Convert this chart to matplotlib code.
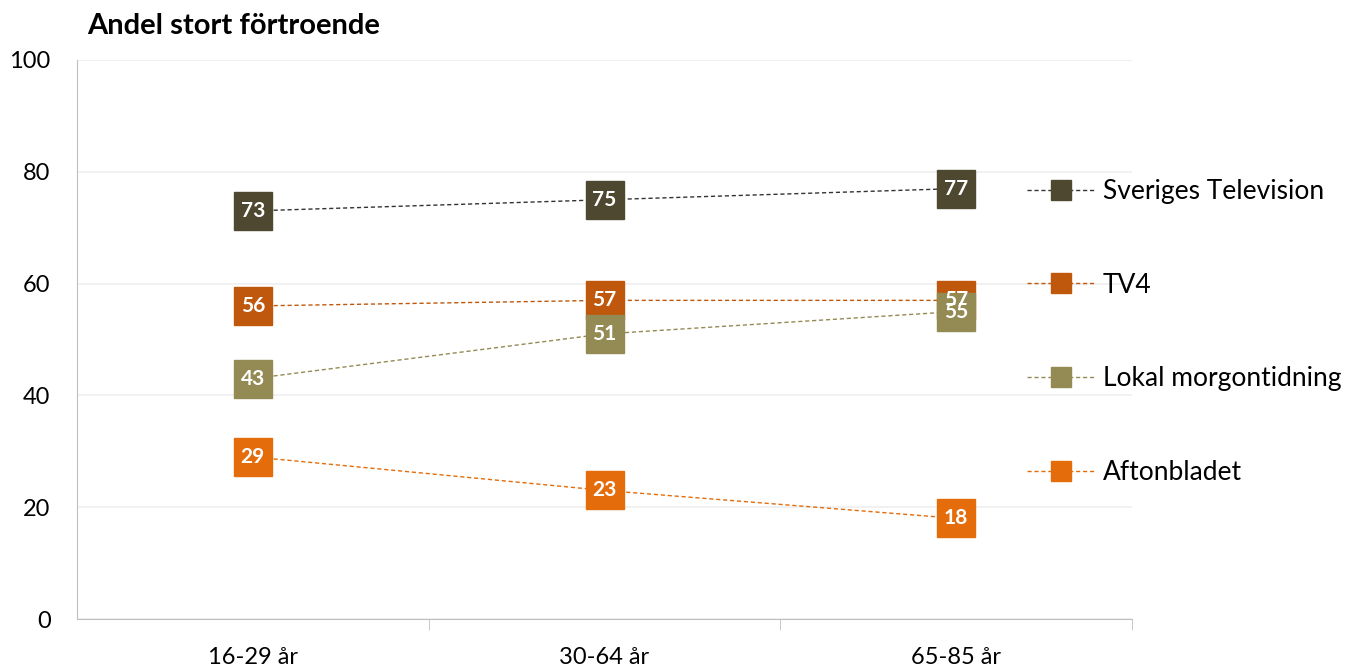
import matplotlib.pyplot as plt
from matplotlib.ticker import FixedLocator

plt.rcParams['font.family'] = ['Lato', 'DejaVu Sans']

# data
kategorier = ["16-29 år", "30-64 år", "65-85 år"]
svt = [73, 75, 77]
tv4 = [56, 57, 57]
lokal = [43, 51, 55]
aftonbladet = [29, 23, 18]

serier = [
    ("Sveriges Television", svt, "#4d482f", "#333333"),
    ("TV4", tv4, "#bf580c", "#bf580c"),
    ("Lokal morgontidning", lokal, "#948a54", "#948a54"),
    ("Aftonbladet", aftonbladet, "#e46c0a", "#e46c0a"),
]

fig = plt.figure(figsize=(13.52, 6.67), dpi=100)
ax = fig.add_axes([77 / 1352, 1 - 619 / 667, (1132 - 77) / 1352, (619 - 60) / 667])

x = range(len(kategorier))
for namn, vals, farg, linjefarg in serier:
    ax.plot(x, vals, linestyle=(0, (3, 2)), linewidth=1, color=linjefarg, zorder=2)
    ax.plot(x, vals, linestyle='none', marker='s', markersize=28, color=farg,
            markeredgecolor=farg, zorder=3)
    # legend handle
    ax.plot([], [], linestyle=(0, (3, 2)), linewidth=1, color=linjefarg,
            marker='s', markersize=14, markerfacecolor=farg, markeredgecolor=farg, label=namn)

for namn, vals, farg, linjefarg in serier:
    for xi, v in zip(x, vals):
        ax.text(xi, v, str(v), ha='center', va='center', color='white',
                fontsize=15, fontweight='bold', zorder=5)

ax.set_xlim(-0.5, 2.5)
ax.set_ylim(0, 100)
ax.set_yticks(range(0, 101, 20))
ax.grid(axis='y', color='#efefef', linewidth=1.2, zorder=0)
ax.set_axisbelow(True)

ax.set_xticks(list(x))
ax.set_xticklabels(kategorier, fontsize=17)
ax.xaxis.set_minor_locator(FixedLocator([0.5, 1.5, 2.5]))
ax.tick_params(axis='x', which='major', length=0, pad=20)
ax.tick_params(axis='x', which='minor', length=8, color='#bfbfbf')
ax.tick_params(axis='y', length=0, pad=19, labelsize=17)

for s in ['top', 'right']:
    ax.spines[s].set_visible(False)
ax.spines['left'].set_color('#bfbfbf')
ax.spines['bottom'].set_color('#bfbfbf')

fig.text(87 / 1352, 1 - 26 / 667, "Andel stort förtroende", fontsize=21,
         fontweight='bold', va='center', ha='left')

ax.legend(loc='upper left', bbox_to_anchor=(1027 / 1352, 1 - 179 / 667),
          bbox_transform=fig.transFigure, frameon=False, fontsize=19,
          handlelength=2.6, labelspacing=2.6, handletextpad=0.27, borderaxespad=0,
          borderpad=0)

fig.savefig("out.png", dpi=100)
